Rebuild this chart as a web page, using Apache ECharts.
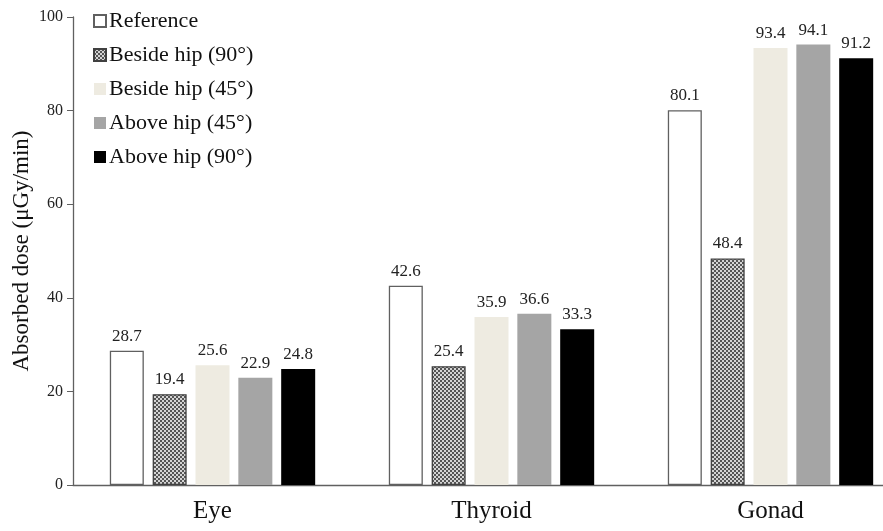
<!DOCTYPE html>
<html><head><meta charset="utf-8">
<script src="https://cdn.jsdelivr.net/npm/echarts@6/dist/echarts.min.js"></script>
<style>html,body{margin:0;padding:0;background:#fff}#c{width:883px;height:531px}</style>
</head><body><div id="c"></div>
<script>
var categories = ['Eye', 'Thyroid', 'Gonad'];
var seriesNames = ['Reference', 'Beside hip (90°)', 'Beside hip (45°)', 'Above hip (45°)', 'Above hip (90°)'];
var reference = [28.7, 42.6, 80.1];
var besideHip90 = [19.4, 25.4, 48.4];
var besideHip45 = [25.6, 35.9, 93.4];
var aboveHip45 = [22.9, 36.6, 94.1];
var aboveHip90 = [24.8, 33.3, 91.2];
var yTicks = [0, 20, 40, 60, 80, 100];

var cv = document.createElement('canvas');
cv.width = 4; cv.height = 4;
var cx = cv.getContext('2d');
cx.fillStyle = '#d4d4d4'; cx.fillRect(0,0,4,4);
cx.fillStyle = '#555555';
cx.fillRect(0,0,2,2); cx.fillRect(2,2,2,2);

var font = '"Liberation Serif", "Times New Roman", serif';
var dataSets = [reference, besideHip90, besideHip45, aboveHip45, aboveHip90];
var styles = [
  {color:'#ffffff', borderColor:'#606060', borderWidth:1.3},
  {color:{image:cv, repeat:'repeat'}, borderColor:'#404040', borderWidth:1.3},
  {color:'#eeebe1'},
  {color:'#a5a5a5'},
  {color:'#000000'}
];
var series = dataSets.map(function(d,i){
  return {
    name: seriesNames[i], type:'bar', data:d, barWidth:34, barGap:'26%',
    itemStyle: styles[i],
    label:{show:true, position:'top', distance:6, color:'#222', fontFamily:font, fontSize:17}
  };
});
var chart = echarts.init(document.getElementById('c'));
chart.setOption({
  animation:false,
  grid:{left:73, top:17, width:837, height:468, containLabel:false, outerBoundsMode:'none'},
  legend:{
    orient:'vertical', left:88, top:5, itemWidth:12, itemHeight:12, itemGap:12,
    icon:'rect',
    textStyle:{fontFamily:font, fontSize:22, color:'#111', padding:[0,0,0,-2]},
    data: seriesNames
  },
  xAxis:{
    type:'category', data:categories,
    axisLine:{lineStyle:{color:'#606060', width:1.3}},
    axisTick:{show:false},
    axisLabel:{fontFamily:font, fontSize:25, color:'#111', margin:14}
  },
  yAxis:{
    type:'value', min:yTicks[0], max:yTicks[yTicks.length-1], interval:20,
    name:'Absorbed dose (μGy/min)', nameLocation:'middle', nameGap:40, nameMoveOverlap:false,
    nameTextStyle:{fontFamily:font, fontSize:23, color:'#111'},
    axisLine:{show:true, lineStyle:{color:'#606060', width:1.3}},
    axisTick:{show:true, length:6, lineStyle:{color:'#606060'}},
    splitLine:{show:false},
    axisLabel:{fontFamily:font, fontSize:16, color:'#222', margin:10}
  },
  series: series
});
</script></body></html>
